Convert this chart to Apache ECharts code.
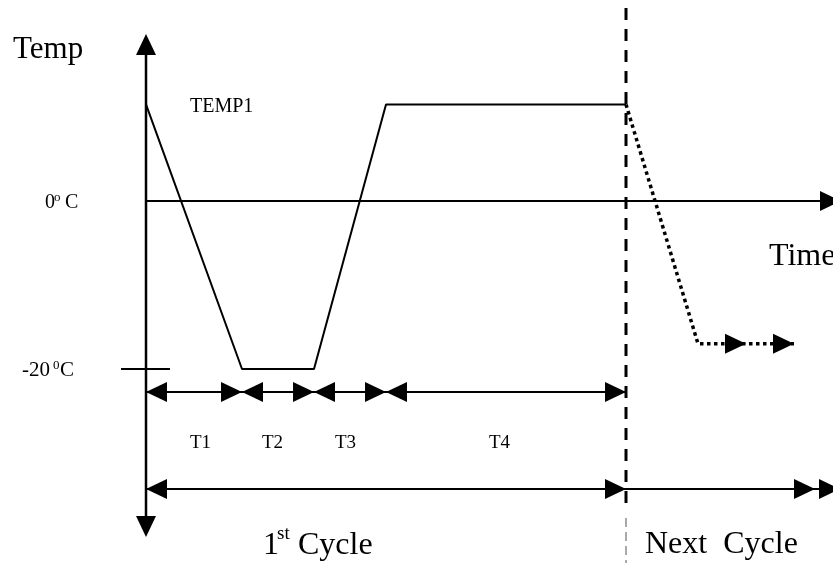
<!DOCTYPE html>
<html><head><meta charset="utf-8">
<script src="https://cdn.jsdelivr.net/npm/echarts@6/dist/echarts.min.js"></script>
<style>html,body{margin:0;padding:0;background:#fff}#c{width:833px;height:563px}</style>
</head><body><div id="c"></div>
<script>
// ---- data ----
const phaseLabels = ['T1', 'T2', 'T3', 'T4'];
const phaseBounds = [0, 8, 14, 20, 40];          // time units at phase boundaries
const cycleTime = [0, 8, 14, 20, 40];
const cycleTemp = [11.5, -20, -20, 11.5, 11.5];  // °C
const nextTime = [40, 46, 50, 54];
const nextTemp = [11.5, -17, -17, -17];
const tempTicks = [0, -20];
const cycleLabels = ['1st Cycle', 'Next  Cycle'];

// ---- scale of the drawing ----
const PX_T = 12, X0 = 146, PX_D = 8.4, Y0 = 201, W = 833, H = 563;
const tAt = px => (px - X0) / PX_T;
const dAt = py => (Y0 - py) / PX_D;

const cycleEnd = phaseBounds[phaseBounds.length - 1];
const row1 = dAt(392), row2 = dAt(489);
const FONT = '"Liberation Serif", "Times New Roman", serif';

function seg(points, width, type, color) {
  return {
    type: 'line', data: points, symbol: 'none', silent: true, animation: false,
    lineStyle: { color: color || '#000', width: width, type: type || 'solid', cap: 'butt' },
    z: 2
  };
}

// arrowheads: [t, temp, dir] dir 0=right 1=left 2=up 3=down (tip at point)
const arrows = [];
arrows.push([0, dAt(34), 2], [0, dAt(537), 3]);
arrows.push([tAt(841), 0, 0]);
for (let i = 0; i < phaseBounds.length - 1; i++) {
  arrows.push([phaseBounds[i], row1, 1], [phaseBounds[i + 1], row1, 0]);
}
arrows.push([0, row2, 1], [cycleEnd, row2, 0], [tAt(815), row2, 0], [tAt(840), row2, 0]);
arrows.push([nextTime[2], nextTemp[2], 0], [nextTime[3], nextTemp[3], 0]);

const series = [
  // axes
  seg([[0, dAt(44)], [0, dAt(527)]], 2.5),
  seg([[0, 0], [tAt(825), 0]], 2),
  seg([[tAt(121), tempTicks[1]], [tAt(170), tempTicks[1]]], 2),
  // temperature profile
  seg(cycleTime.map((t, i) => [t, cycleTemp[i]]), 2),
  seg(nextTime.map((t, i) => [t, nextTemp[i]]), 3.5, [3.5, 3.5]),
  // cycle divider
  seg([[cycleEnd, dAt(8)], [cycleEnd, dAt(512)]], 3, [12, 9]),
  seg([[cycleEnd, dAt(518)], [cycleEnd, dAt(563)]], 1, [9, 5], '#555'),
  // duration rows
  seg([[0, row1], [cycleEnd, row1]], 2),
  seg([[0, row2], [tAt(830), row2]], 2),
  {
    type: 'custom', clip: false, silent: true, animation: false, z: 3,
    encode: { x: 0, y: 1 },
    data: arrows,
    renderItem: function (params, api) {
      const p = api.coord([api.value(0), api.value(1)]);
      const d = api.value(2), L = 21, h = 10;
      let pts;
      if (d === 0) pts = [[p[0], p[1]], [p[0] - L, p[1] - h], [p[0] - L, p[1] + h]];
      else if (d === 1) pts = [[p[0], p[1]], [p[0] + L, p[1] - h], [p[0] + L, p[1] + h]];
      else if (d === 2) pts = [[p[0], p[1]], [p[0] - h, p[1] + L], [p[0] + h, p[1] + L]];
      else pts = [[p[0], p[1]], [p[0] - h, p[1] - L], [p[0] + h, p[1] - L]];
      return { type: 'polygon', shape: { points: pts }, style: { fill: '#000' } };
    }
  }
];

function txt(s, x, baseline, size) {
  return {
    type: 'text', x: x, y: baseline - size * 0.26, silent: true,
    style: { text: s, font: size + 'px ' + FONT, fill: '#000', verticalAlign: 'middle', align: 'left' }
  };
}

const labelLeft = [190, 262, 335, 489];
const graphic = [
  txt('Temp', 13, 58, 31),
  txt('TEMP1', 190, 112, 20),
  txt('0', 45, 208, 20), txt('o', 54, 201, 13), txt('C', 65, 208, 20),
  txt('-20', 22, 376, 21), txt('0', 53, 369, 13), txt('C', 60, 376, 21),
  txt('Time', 769, 265, 32),
  txt(cycleLabels[0].slice(0, 1), 263, 554, 32),
  txt(cycleLabels[0].slice(1, 3), 277, 539, 19),
  txt(cycleLabels[0].slice(4), 298, 554, 32),
  txt(cycleLabels[1], 645, 553, 32)
].concat(phaseLabels.map((s, i) => txt(s, labelLeft[i], 448, 19)));

const chart = echarts.init(document.getElementById('c'), null, { renderer: 'canvas' });
chart.setOption({
  animation: false,
  backgroundColor: '#fff',
  grid: { left: 0, top: 0, width: W, height: H, containLabel: false },
  xAxis: { type: 'value', min: -X0 / PX_T, max: (W - X0) / PX_T, show: false },
  yAxis: { type: 'value', min: (Y0 - H) / PX_D, max: Y0 / PX_D, show: false },
  series: series,
  graphic: graphic
});
</script></body></html>
